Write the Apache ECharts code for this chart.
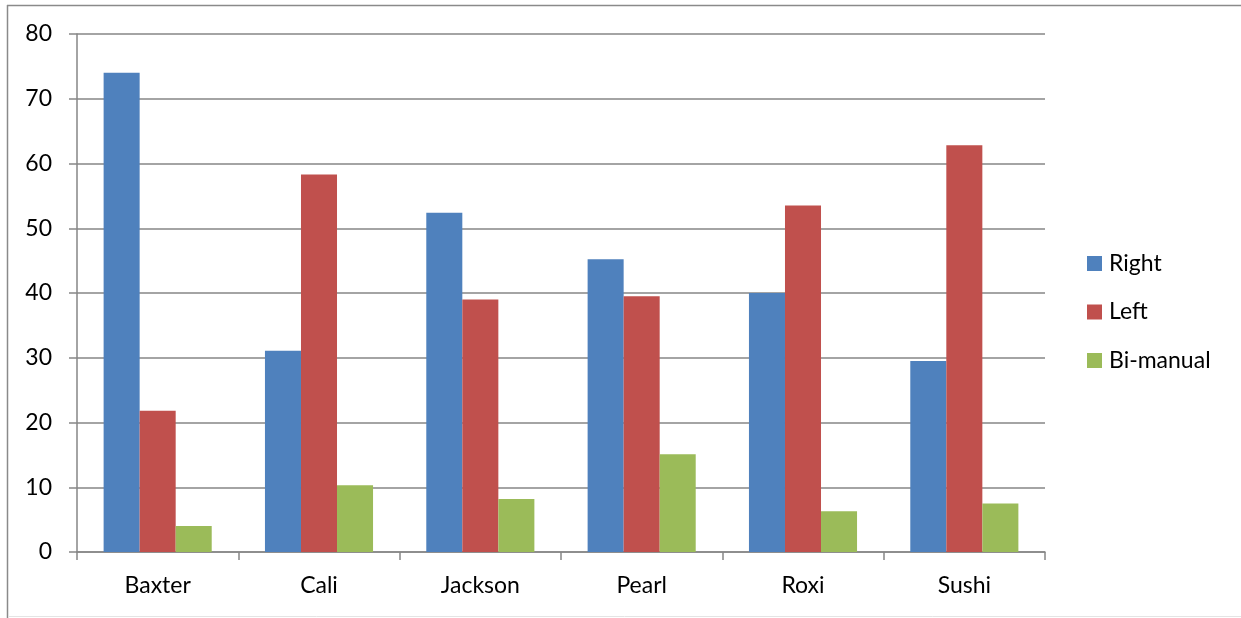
<!DOCTYPE html>
<html>
<head>
<meta charset="utf-8">
<script src="https://cdn.jsdelivr.net/npm/echarts@6/dist/echarts.min.js"></script>
<style>
  html, body { margin: 0; padding: 0; background: #fff; }
  #chart { width: 1241px; height: 618px; }
</style>
</head>
<body>
<div id="chart"></div>
<script>
// Hand preference per subject
const categories = ['Baxter', 'Cali', 'Jackson', 'Pearl', 'Roxi', 'Sushi'];
const rightHand = [74.0, 31.1, 52.4, 45.2, 40.0, 29.5];
const leftHand = [21.8, 58.3, 39.0, 39.5, 53.5, 62.8];
const biManual = [4.0, 10.3, 8.2, 15.1, 6.3, 7.5];
const seriesNames = ['Right', 'Left', 'Bi-manual'];

const FONT = 'Lato, "Open Sans", sans-serif';
const axisGray = '#868686';

const chart = echarts.init(document.getElementById('chart'));
chart.setOption({
  animation: false,
  color: ['#4F81BD', '#C0504D', '#9BBB59'],
  textStyle: { fontFamily: FONT },
  grid: { left: 77, right: 196, top: 34, bottom: 66, containLabel: false },
  legend: {
    orient: 'vertical',
    left: 1082,
    top: 247,
    itemWidth: 15,
    itemHeight: 15,
    itemGap: 25.5,
    icon: 'rect',
    data: seriesNames,
    textStyle: { fontSize: 23, color: '#000', fontFamily: FONT, padding: [0, 0, 0, 2] }
  },
  xAxis: {
    type: 'category',
    data: categories,
    boundaryGap: true,
    axisLine: { lineStyle: { color: axisGray, width: 1.5 } },
    axisTick: { show: true, length: 8, alignWithLabel: false, lineStyle: { color: axisGray, width: 1.5 } },
    axisLabel: { color: '#000', fontSize: 23, margin: 22, fontFamily: FONT }
  },
  yAxis: {
    type: 'value',
    min: 0,
    max: 80,
    interval: 10,
    axisLine: { show: true, lineStyle: { color: axisGray, width: 1.5 } },
    axisTick: { show: true, length: 8, lineStyle: { color: axisGray, width: 1.5 } },
    axisLabel: { color: '#000', fontSize: 23, margin: 25, fontFamily: FONT },
    splitLine: { show: true, lineStyle: { color: axisGray, width: 1.5 } }
  },
  series: [
    { name: seriesNames[0], type: 'bar', data: rightHand, barGap: '0%', barCategoryGap: '33%' },
    { name: seriesNames[1], type: 'bar', data: leftHand, barGap: '0%', barCategoryGap: '33%' },
    { name: seriesNames[2], type: 'bar', data: biManual, barGap: '0%', barCategoryGap: '33%' }
  ],
  graphic: [
    // outer frame: top and left edges, faint bottom edge
    { type: 'line', shape: { x1: 7, y1: 5.5, x2: 1241, y2: 5.5 }, style: { stroke: '#8a8a8a', lineWidth: 1.5 }, silent: true },
    { type: 'line', shape: { x1: 7.5, y1: 5, x2: 7.5, y2: 618 }, style: { stroke: '#8a8a8a', lineWidth: 1.5 }, silent: true },
    { type: 'line', shape: { x1: 8, y1: 616.5, x2: 1241, y2: 616.5 }, style: { stroke: '#e4e4e4', lineWidth: 1 }, silent: true }
  ]
});
</script>
</body>
</html>
